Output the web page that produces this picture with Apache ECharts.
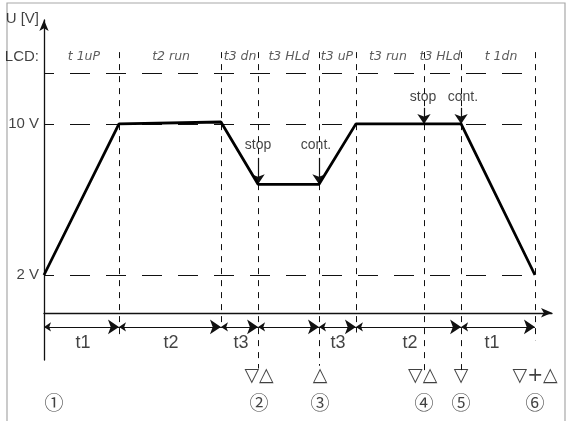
<!DOCTYPE html>
<html>
<head>
<meta charset="utf-8">
<script src="https://cdn.jsdelivr.net/npm/echarts@6/dist/echarts.min.js"></script>
<style>
  html, body { margin: 0; padding: 0; background: #fff; }
  #main { width: 569px; height: 421px; }
</style>
</head>
<body>
<div id="main"></div>
<script>
// voltage trace (time in arbitrary units, voltage in V)
const traceTimes = [0, 4, 9.44, 11.42, 14.67, 16.64, 22.25, 26.19];
const traceVolts = [2, 10, 10.1, 6.8, 6.8, 10, 10, 2];

// vertical dashed phase boundaries
const phaseTimes = [4, 9.44, 11.42, 14.67, 16.64, 20.27, 22.25, 26.19];
const phaseBottoms = [-1.2, -0.5, -2.95, -2.8, -1.05, -3.05, -3.05, -1.45];
const phaseTop = 13.8;

// horizontal dashed levels
const levelVolts = [12.7, 10, 2];
const levelEnd = 26.19;

// y labels
const yLabelVals = [2, 10, 13.55, 15.55];
const yLabelTexts = ['2 V', '10 V', 'LCD:', 'U [V]'];

// LCD display texts
const lcdTimes = [2.13, 6.78, 10.46, 13.07, 15.63, 18.35, 21.13, 24.38];
const lcdTexts = ['t 1uP', 't2 run', 't3 dn', 't3 HLd', 't3 uP', 't3 run', 't3 HLd', 't 1dn'];
const lcdY = 13.55;

// duration arrows row
const spanStarts = [0, 4, 9.44, 11.42, 14.67, 16.64, 22.25];
const spanEnds = [4, 9.44, 11.42, 14.67, 16.64, 22.25, 26.19];
const spanY = -0.75;
const spanLabelTimes = [2.08, 6.78, 10.51, 15.68, 19.53, 23.9];
const spanLabelTexts = ['t1', 't2', 't3', 't3', 't2', 't1'];
const spanLabelY = -1.6;

// stop / cont. markers
const markTimes = [11.42, 14.67, 20.27, 22.25];
const markFrom = [8.2, 8.2, 10.85, 10.85];
const markTo = [6.8, 6.8, 10, 10];
const markLabelTimes = [11.42, 14.51, 20.22, 22.35];
const markLabelVolts = [8.85, 8.85, 11.4, 11.4];
const markLabelTexts = ['stop', 'cont.', 'stop', 'cont.'];

// key symbols and step numbers
const keyTimes = [11.47, 14.72, 20.2, 22.25, 26.2];
const keyTexts = ['▽△', '△', '▽△', '▽', '▽+△'];
const keyY = -3.35;
const stepTimes = [0.53, 11.47, 14.72, 20.27, 22.25, 26.19];
const stepTexts = ['①', '②', '③', '④', '⑤', '⑥'];
const stepY = -4.75;

const font = '"Liberation Sans", Arial, sans-serif';

function textSeries(points, texts, opts) {
    return {
        type: 'scatter',
        symbolSize: 0,
        clip: false,
        silent: true,
        data: points.map((p, i) => ({value: p, name: texts[i]})),
        label: Object.assign({
            show: true,
            position: 'inside',
            formatter: (p) => p.name,
            color: '#111',
            fontFamily: font,
            fontSize: 14
        }, opts)
    };
}

let chart = echarts.init(document.getElementById('main'));

let option = {
    backgroundColor: '#fff',
    animation: false,
    graphic: [{
        type: 'rect',
        shape: {x: 7, y: 3, width: 558, height: 440},
        style: {fill: 'none', stroke: '#a8a8a8', lineWidth: 1.2},
        silent: true
    }],
    grid: {left: 44, right: 17, top: 20, bottom: 61},
    xAxis: {
        type: 'value',
        min: 0,
        max: 27.1,
        axisLine: {
            show: true,
            onZero: true,
            symbol: ['none', 'arrow'],
            symbolSize: [7, 11],
            lineStyle: {color: '#111', width: 1.3}
        },
        axisTick: {show: false},
        axisLabel: {show: false},
        splitLine: {show: false}
    },
    yAxis: {
        type: 'value',
        min: -2.5,
        max: 15.5,
        axisLine: {
            show: true,
            symbol: ['none', 'arrow'],
            symbolSize: [7, 11],
            lineStyle: {color: '#111', width: 1.3}
        },
        axisTick: {show: false},
        axisLabel: {show: false},
        splitLine: {show: false}
    },
    series: [
        // horizontal dashed levels
        {
            type: 'lines',
            coordinateSystem: 'cartesian2d',
            clip: false,
            silent: true,
            symbol: 'none',
            lineStyle: {color: '#111', width: 1, type: [20, 16], dashOffset: 10, opacity: 1},
            data: levelVolts.map(v => ({coords: [[0, v], [levelEnd, v]]}))
        },
        // vertical dashed phase lines
        {
            type: 'lines',
            coordinateSystem: 'cartesian2d',
            clip: false,
            silent: true,
            symbol: 'none',
            lineStyle: {color: '#111', width: 1, type: [6, 6], opacity: 1},
            data: phaseTimes.map((t, i) => ({coords: [[t, phaseTop], [t, phaseBottoms[i]]]}))
        },
        // voltage trace
        {
            type: 'line',
            silent: true,
            symbol: 'none',
            lineStyle: {color: '#000', width: 2.8},
            data: traceTimes.map((t, i) => [t, traceVolts[i]])
        },
        // duration arrows
        {
            type: 'lines',
            coordinateSystem: 'cartesian2d',
            clip: false,
            silent: true,
            symbol: ['arrow', 'arrow'],
            symbolSize: [7, 11],
            lineStyle: {color: '#111', width: 1, opacity: 1},
            data: spanStarts.map((s, i) => ({coords: [[s, spanY], [spanEnds[i], spanY]]}))
        },
        // stop / cont. arrows
        {
            type: 'lines',
            coordinateSystem: 'cartesian2d',
            clip: false,
            silent: true,
            symbol: ['none', 'arrow'],
            symbolSize: [7, 10],
            lineStyle: {color: '#111', width: 1.2, opacity: 1},
            data: markTimes.map((t, i) => ({coords: [[t, markFrom[i]], [t, markTo[i]]]}))
        },
        textSeries(yLabelVals.map(v => [0, v]), yLabelTexts, {position: 'left', distance: 5, fontSize: 15}),
        textSeries(lcdTimes.map(t => [t, lcdY]), lcdTexts, {fontStyle: 'italic', fontSize: 12.5, fontFamily: '"DejaVu Sans", sans-serif', color: '#333'}),
        textSeries(spanLabelTimes.map(t => [t, spanLabelY]), spanLabelTexts, {fontSize: 18}),
        textSeries(markLabelTimes.map((t, i) => [t, markLabelVolts[i]]), markLabelTexts, {fontSize: 14}),
        textSeries(keyTimes.map(t => [t, keyY]), keyTexts, {fontSize: 19, fontFamily: '"DejaVu Sans", sans-serif'}),
        textSeries(stepTimes.map(t => [t, stepY]), stepTexts, {fontSize: 19, fontFamily: '"Noto Sans CJK JP", "DejaVu Sans", sans-serif'})
    ]
};

chart.setOption(option);
</script>
</body>
</html>
